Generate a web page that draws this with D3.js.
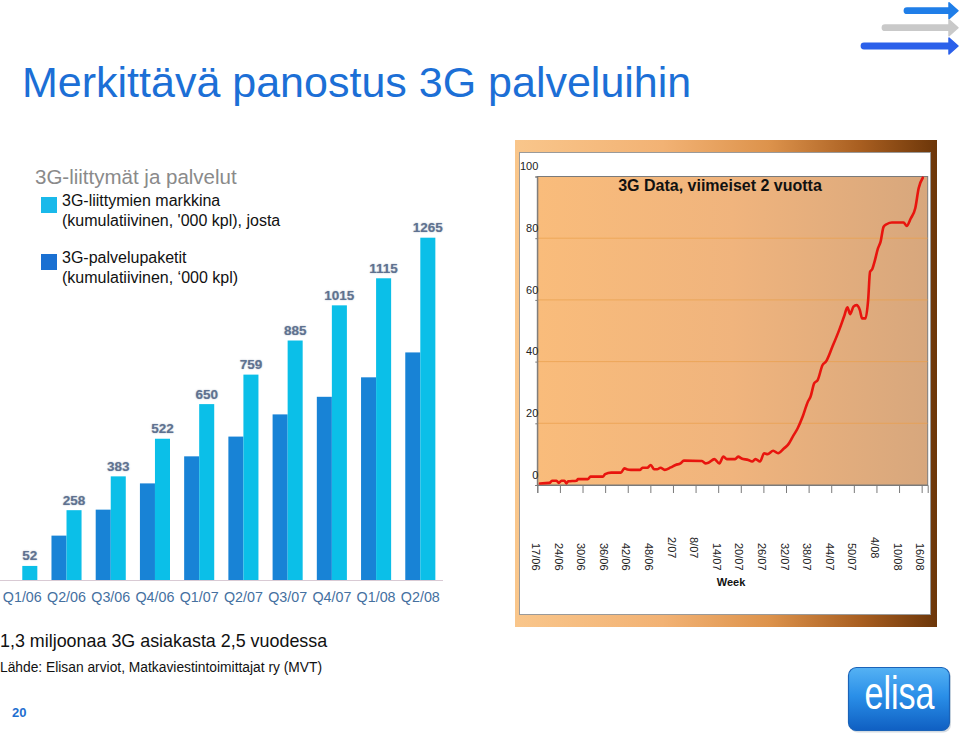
<!DOCTYPE html>
<html>
<head>
<meta charset="utf-8">
<script src="https://cdn.jsdelivr.net/npm/d3@7"></script>
<style>
  html,body{margin:0;padding:0;background:#fff;}
  svg{display:block;font-family:"Liberation Sans",Arial,Helvetica,sans-serif;}
</style>
</head>
<body>
<svg id="chart" width="960" height="736"></svg>
<script>
// ---------- data ----------
const quarters = ["Q1/06","Q2/06","Q3/06","Q4/06","Q1/07","Q2/07","Q3/07","Q4/07","Q1/08","Q2/08"];
const subscriptions = [52,258,383,522,650,759,885,1015,1115,1265];   // 3G-liittymien markkina
const packages      = [0,164,260,357,457,530,612,677,749,841];       // 3G-palvelupaketit
const weekLabels = ["17/06","24/06","30/06","36/06","42/06","48/06","2/07","8/07","14/07","20/07","26/07","32/07","38/07","44/07","50/07","4/08","10/08","16/08"];
const yTicks = [0,20,40,60,80,100];
const dataWeeks = [0.7,3.3,3.9,5.1,5.7,6.4,7.2,7.7,8.2,10.4,10.8,13.4,14.1,17.4,18.0,19.6,22.2,23.1,23.9,24.8,
  27.3,27.9,29.2,30.1,31.0,31.8,32.7,33.8,35.4,36.7,38.0,38.9,43.7,44.6,45.4,47.0,48.3,49.4,50.3,52.5,
  53.3,54.2,56.0,57.0,57.9,59.1,60.2,61.1,62.6,63.9,65.5,66.5,67.8,69.1,70.4,71.8,72.5,73.5,74.4,75.7,
  76.6,78.3,80.1,81.4,82.3,83.0,83.9,84.7,85.6,86.2,87.1,87.8,88.3,88.9,89.5,90.4,91.1,91.9,92.8,94.1,
  97.2,98.0,99.1,100.3,101.2,102.3];
const dataValues = [0.5,0.7,1.4,1.4,0.7,1.4,1.4,0.5,1.2,1.4,1.9,1.9,2.7,2.7,3.5,4.0,4.0,5.4,5.0,4.9,
  4.9,5.6,5.6,6.5,5.1,5.1,5.6,4.9,5.7,6.5,7.0,7.9,7.8,7.0,7.2,8.4,7.0,9.2,8.4,8.4,
  9.2,8.6,8.1,7.6,8.4,7.6,10.3,10.0,11.1,10.3,11.9,13.0,15.7,18.4,22.1,27.0,28.6,33.0,34.0,38.9,
  40.0,44.8,50.2,54.6,57.6,55.4,57.8,58.3,56.7,54.0,54.0,60.0,69.1,70.0,72.4,76.7,78.9,83.7,84.6,85.1,
  85.1,84.0,86.4,89.7,96.2,99.6];

const svg = d3.select("#chart");
const defs = svg.append("defs");
const FONT = '"Liberation Sans",Arial,Helvetica,sans-serif';

// ---------- title ----------
svg.append("text").attr("x",22).attr("y",97).attr("font-size",43).attr("fill","#1c6fd6")
  .text("Merkittävä panostus 3G palveluihin");

// ---------- arrows top right ----------
function arrow(x0, y, color){
  const g = svg.append("g");
  g.append("line").attr("x1",x0).attr("x2",951).attr("y1",y).attr("y2",y)
    .attr("stroke",color).attr("stroke-width",6.8).attr("stroke-linecap","round");
  g.append("path").attr("d",`M949,${y-8} L958,${y} L949,${y+8} Z`)
    .attr("fill",color).attr("stroke",color).attr("stroke-width",1.5).attr("stroke-linejoin","round");
}
arrow(907,10.7,"#1f7ee8");
arrow(885,27.7,"#c9c9c9");
arrow(864,46,"#2b60ea");

// ---------- bar chart (left) ----------
svg.append("text").attr("x",35).attr("y",184).attr("font-size",20.5).attr("fill","#8a8a8a")
  .text("3G-liittymät ja palvelut");

const LIGHT = "#0bbfe8", DARK = "#1883d6";
svg.append("rect").attr("x",41).attr("y",197).attr("width",16).attr("height",16).attr("fill","#1ab9ea");
svg.append("text").attr("x",62).attr("y",206).attr("font-size",16).attr("fill","#111").text("3G-liittymien markkina");
svg.append("text").attr("x",62).attr("y",226).attr("font-size",16).attr("fill","#111").text("(kumulatiivinen, '000 kpl), josta");
svg.append("rect").attr("x",41).attr("y",254).attr("width",16).attr("height",16).attr("fill","#1a70d2");
svg.append("text").attr("x",62).attr("y",263).attr("font-size",16).attr("fill","#111").text("3G-palvelupaketit");
svg.append("text").attr("x",62).attr("y",283).attr("font-size",16).attr("fill","#111").text("(kumulatiivinen, \u2018000 kpl)");

const xb = d3.scaleBand().domain(quarters).range([-6.9,449.5]).paddingInner(0.32).paddingOuter(0.32);
const yb = d3.scaleLinear().domain([0,1300]).range([580, 580-1300*0.2706]);
const half = xb.bandwidth()/2;

const gb = svg.append("g");
gb.selectAll("rect.dark").data(quarters).join("rect").attr("class","dark")
  .attr("x",d=>xb(d)).attr("width",half)
  .attr("y",(d,i)=>yb(packages[i])).attr("height",(d,i)=>yb(0)-yb(packages[i]))
  .attr("fill",DARK);
gb.selectAll("rect.light").data(quarters).join("rect").attr("class","light")
  .attr("x",d=>xb(d)+half).attr("width",half)
  .attr("y",(d,i)=>yb(subscriptions[i])).attr("height",(d,i)=>yb(0)-yb(subscriptions[i]))
  .attr("fill",LIGHT);
gb.append("line").attr("x1",0).attr("x2",443).attr("y1",yb(0)+0.5).attr("y2",yb(0)+0.5)
  .attr("stroke","#d9cad4").attr("stroke-width",1.2);
gb.selectAll("text.val").data(quarters).join("text").attr("class","val")
  .attr("x",d=>xb(d)+half*1.5).attr("y",(d,i)=>yb(subscriptions[i])-5.5)
  .attr("text-anchor","middle").attr("font-size",13.5).attr("font-weight","bold")
  .attr("fill","#5f7290").style("text-shadow","0 0 1.5px rgba(90,110,140,0.6)")
  .text((d,i)=>subscriptions[i]);
const axB = d3.axisBottom(xb).tickSize(0).tickPadding(0);
const gax = gb.append("g").attr("transform",`translate(0,${yb(0)})`).call(axB);
gax.select(".domain").remove();
gax.selectAll("text").attr("font-size",14.3).attr("fill","#45709f").attr("font-family",FONT)
  .attr("y",0).attr("dy",22);

// ---------- right chart frame ----------
const fg = defs.append("linearGradient").attr("id","frameGrad").attr("x1","0").attr("x2","1").attr("y1","0").attr("y2","0");
[[0,"#f9c68b"],[0.35,"#f2b274"],[0.6,"#dd934c"],[0.82,"#a85e20"],[1,"#6c3609"]].forEach(s=>
  fg.append("stop").attr("offset",s[0]).attr("stop-color",s[1]));
const pg = defs.append("linearGradient").attr("id","plotGrad").attr("x1","0").attr("x2","1").attr("y1","0").attr("y2","0");
[[0,"#f9bc7b"],[0.5,"#f0b47d"],[1,"#d7a77d"]].forEach(s=>
  pg.append("stop").attr("offset",s[0]).attr("stop-color",s[1]));

svg.append("rect").attr("x",515).attr("y",140).attr("width",422).attr("height",487).attr("fill","url(#frameGrad)");
svg.append("rect").attr("x",519.5).attr("y",152.5).attr("width",411).attr("height",462)
  .attr("fill","#fff").attr("stroke","#9a9a9a").attr("stroke-width",1);

// ---------- line chart ----------
const xl = d3.scaleLinear().domain([0,103.6]).range([537.3,927.7]);
const yl = d3.scaleLinear().domain([0,100]).range([485,176.5]);

svg.append("rect").attr("x",xl(0)).attr("y",yl(100)).attr("width",xl(103.6)-xl(0)).attr("height",yl(0)-yl(100))
  .attr("fill","url(#plotGrad)").attr("stroke","#7a7a7a").attr("stroke-width",1);

svg.append("g").selectAll("line").data(yTicks.filter(v=>v>0 && v<100)).join("line")
  .attr("x1",xl(0)).attr("x2",xl(103.6)).attr("y1",d=>yl(d)).attr("y2",d=>yl(d))
  .attr("stroke","#eaa04c").attr("stroke-opacity",0.7).attr("stroke-width",1);

svg.append("text").attr("x",720).attr("y",191).attr("text-anchor","middle")
  .attr("font-size",16).attr("font-weight","bold").attr("fill","#111").text("3G Data, viimeiset 2 vuotta");

const line = d3.line().x((d,i)=>xl(dataWeeks[i])).y((d,i)=>yl(dataValues[i])).curve(d3.curveMonotoneX);
svg.append("path").datum(dataValues).attr("d",line).attr("fill","none")
  .attr("stroke","#e8150e").attr("stroke-width",2.6).attr("stroke-linejoin","round").attr("stroke-linecap","round");

// y axis
const gy = svg.append("g").attr("transform",`translate(${xl(0)},0)`)
  .call(d3.axisLeft(yl).tickValues(yTicks).tickSize(2).tickPadding(0));
gy.select(".domain").attr("stroke","#7a7a7a");
gy.selectAll(".tick line").attr("stroke","#7a7a7a");
gy.selectAll(".tick text").attr("font-size",11).attr("fill","#222").attr("font-family",FONT)
  .attr("x",1).attr("dy","-0.62em");

// x axis
const wkTicks = weekLabels.map((d,i)=>i*6);
const gx = svg.append("g").attr("transform",`translate(0,${yl(0)})`)
  .call(d3.axisBottom(xl).tickValues(wkTicks).tickSize(8).tickFormat((d,i)=>weekLabels[i]));
gx.select(".domain").attr("stroke","#7a7a7a");
gx.selectAll(".tick line").attr("stroke","#7a7a7a");
gx.selectAll(".tick text").attr("font-size",11).attr("fill","#222").attr("font-family",FONT)
  .attr("text-anchor","start")
  .attr("transform",d=>{const lab=weekLabels[d/6]; return `translate(-2,${lab.length<5?52:58}) rotate(90)`;})
  .attr("x",0).attr("y",0).attr("dy","0.35em");

svg.append("text").attr("x",731).attr("y",586).attr("text-anchor","middle")
  .attr("font-size",11).attr("font-weight","bold").attr("fill","#111").text("Week");

// ---------- footer ----------
svg.append("text").attr("x",0).attr("y",647).attr("font-size",17.9).attr("fill","#111")
  .text("1,3 miljoonaa 3G asiakasta 2,5 vuodessa");
svg.append("text").attr("x",0).attr("y",672).attr("font-size",13.8).attr("fill","#111")
  .text("Lähde: Elisan arviot, Matkaviestintoimittajat ry (MVT)");
svg.append("text").attr("x",12).attr("y",717).attr("font-size",13).attr("font-weight","bold").attr("fill","#1f6fd0")
  .text("20");

// ---------- elisa logo ----------
const lg = defs.append("linearGradient").attr("id","logoGrad").attr("x1","0").attr("x2","0").attr("y1","0").attr("y2","1");
[[0,"#55b2f4"],[0.45,"#2a8fe8"],[1,"#0f5fc2"]].forEach(s=>lg.append("stop").attr("offset",s[0]).attr("stop-color",s[1]));
svg.append("rect").attr("x",850).attr("y",668.5).attr("width",101).attr("height",64).attr("rx",8)
  .attr("fill","#b9c4cf").attr("opacity",0.6);
svg.append("rect").attr("x",848.5).attr("y",667.5).attr("width",101).attr("height",63).attr("rx",8)
  .attr("fill","url(#logoGrad)").attr("stroke","#1b63b8").attr("stroke-width",1.2);
svg.append("text").attr("x",899.5).attr("y",709).attr("text-anchor","middle")
  .attr("font-size",46).attr("fill","#fff")
  .attr("textLength",70).attr("lengthAdjust","spacingAndGlyphs").text("elisa");
</script>
</body>
</html>
